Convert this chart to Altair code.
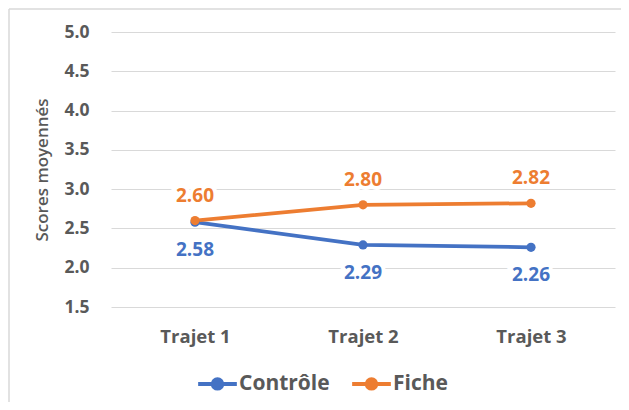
import altair as alt
import pandas as pd

trajets = ["Trajet 1", "Trajet 2", "Trajet 3"]
controle = [2.58, 2.29, 2.26]
fiche = [2.60, 2.80, 2.82]
series = ["Contrôle", "Fiche"]
colors = ["#4472C4", "#ED7D31"]
y_ticks = [1.5, 2.0, 2.5, 3.0, 3.5, 4.0, 4.5, 5.0]

rows = []
for t, c, f in zip(trajets, controle, fiche):
    rows.append({"Trajet": t, "Série": "Contrôle", "Score": c})
    rows.append({"Trajet": t, "Série": "Fiche", "Score": f})
df = pd.DataFrame(rows)

FONT = "Open Sans"
GRAY = "#595959"

x = alt.X("Trajet:N", sort=trajets,
          scale=alt.Scale(type="point", padding=0.5),
          axis=alt.Axis(title=None, labelAngle=0, domain=False, ticks=False, grid=False,
                        labelPadding=20, labelFontSize=18.5, labelFontWeight="bold",
                        labelColor=GRAY, labelFont=FONT))
y_axis = alt.Axis(title="Scores moyennés", values=y_ticks, format=".1f",
                  labelOverlap=False, tickCount=len(y_ticks),
                  domain=False, ticks=False, gridColor="#D9D9D9", gridWidth=1,
                  labelPadding=22, labelFontSize=17.5, labelFontWeight="bold",
                  labelColor=GRAY, labelFont=FONT,
                  titleFont=FONT, titleFontSize=17, titleFontWeight=600,
                  titleColor=GRAY, titlePadding=12)
y = alt.Y("Score:Q", scale=alt.Scale(domain=[1.5, 5.0], nice=False, zero=False), axis=y_axis)

legend_path = "M-4.3,0H4.3M1.05,0A1.05,1.05,0,1,1,-1.05,0A1.05,1.05,0,1,1,1.05,0Z"
color = alt.Color("Série:N", scale=alt.Scale(domain=series, range=colors),
                  legend=alt.Legend(title=None, orient="none", direction="horizontal",
                                    legendX=96, legendY=341, padding=0,
                                    symbolType=legend_path, symbolSize=81,
                                    symbolStrokeWidth=4, labelOffset=11,
                                    columnPadding=14, labelFont=FONT, labelFontSize=21,
                                    labelFontWeight="bold", labelColor=GRAY))

base = alt.Chart(df)

border = alt.Chart(alt.Data(values=[{}])).mark_rule(
    stroke="#D9D9D9", strokeWidth=1.5
).encode(x=alt.value(-102), x2=alt.value(520), y=alt.value(-23), y2=alt.value(-23))
border_left = alt.Chart(alt.Data(values=[{}])).mark_rule(
    stroke="#D9D9D9", strokeWidth=1.5
).encode(x=alt.value(-102), x2=alt.value(-102), y=alt.value(-23), y2=alt.value(380))

lines = base.mark_line(strokeWidth=3.75, point=alt.OverlayMarkDef(size=85, filled=True)).encode(
    x=x, y=y, color=color)

def labels(name, dy, col):
    sub = base.transform_filter(alt.datum["Série"] == name)
    enc = dict(x=alt.X("Trajet:N", sort=trajets),
               y=alt.Y("Score:Q", axis=y_axis),
               text=alt.Text("Score:Q", format=".2f"))
    halo = sub.mark_text(dy=dy, font=FONT, fontSize=19, fontWeight="bold",
                         stroke="white", strokeWidth=8, fill="white").encode(**enc)
    txt = sub.mark_text(dy=dy, font=FONT, fontSize=19, fontWeight="bold", color=col).encode(**enc)
    return [halo, txt]

layers = [lines, border, border_left] + labels("Fiche", -25, colors[1]) + labels("Contrôle", 28, colors[0])

chart = alt.layer(*layers).properties(
    width=504, height=275,
    padding={"left": 103, "top": 24, "right": 6, "bottom": 95},
    autosize=alt.AutoSizeParams(type="none"),
    background="white",
).configure_view(stroke=None)

chart.save("out.html", embed_options={"renderer": "svg", "actions": False})
